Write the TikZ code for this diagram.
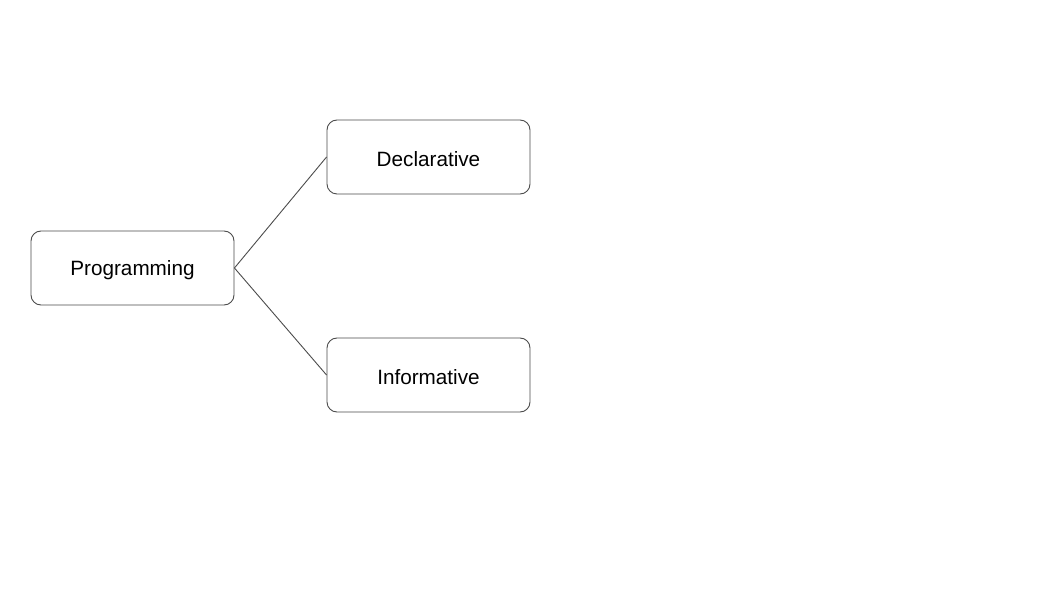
\documentclass[tikz,border=0pt]{standalone}
\usepackage{fontspec}
\setmainfont{Liberation Sans}
\begin{document}
\begin{tikzpicture}[x=1pt,y=-1pt,
  box/.style={draw=black!70, line width=0.9pt, rounded corners=10pt, minimum width=203pt, minimum height=74pt, inner sep=0pt, fill=white},
  lbl/.style={font=\fontsize{20.7}{24}\selectfont, inner sep=0pt},
  link/.style={draw=black!70, line width=0.9pt}]
\useasboundingbox[fill=white] (0,0) rectangle (1061,593);
\node[box] (p) at (132.5,268) {};
\node[box] (d) at (428.5,157) {};
\node[box] (i) at (428.5,375) {};
\node[lbl] (pt) at ([yshift=-2.5pt]p.center) {Programming};
\node[lbl] (dt) at ([yshift=-2.5pt]d.center) {Declarative};
\node[lbl] (it) at ([yshift=-2.5pt]i.center) {Informative};
\draw[link] (p.east) -- (d.west);
\draw[link] (p.east) -- (i.west);
\end{tikzpicture}
\end{document}
